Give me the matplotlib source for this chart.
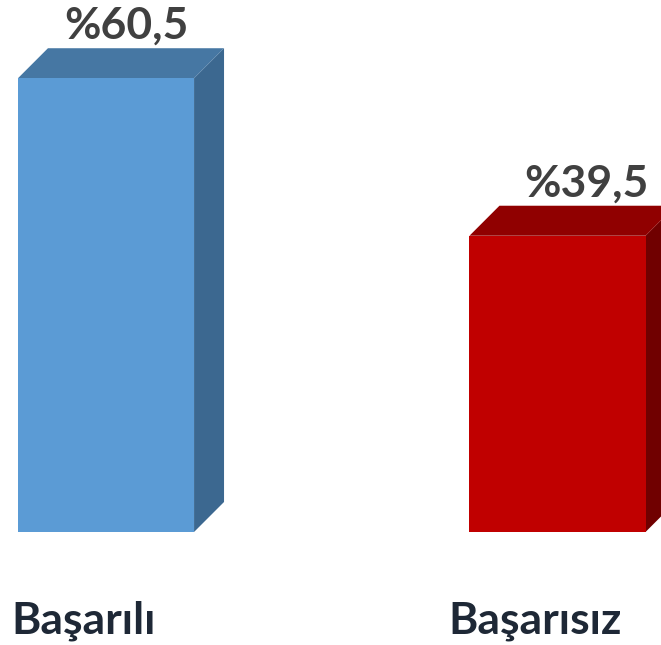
import matplotlib.pyplot as plt
from matplotlib.patches import Polygon

categories = ["Başarılı", "Başarısız"]
values = [60.5, 39.5]
value_labels = ["%60,5", "%39,5"]

front_colors = ["#5B9BD5", "#C00000"]
top_colors = ["#4677A3", "#900000"]
side_colors = ["#3C6890", "#700000"]

fig = plt.figure(figsize=(6.61, 6.45), dpi=100)
ax = fig.add_axes([0, 0, 1, 1])
ax.set_xlim(-0.2348, 1.2292)
ax.set_ylim(-15.07, 70.93)
ax.axis("off")

width = 0.39
dx = 0.0664   # depth offset in x (category units)
dy = 4.0      # depth offset in y (value units)

for i, (v, fc, tc, sc) in enumerate(zip(values, front_colors, top_colors, side_colors)):
    x0, x1 = i - width / 2, i + width / 2
    # side face
    ax.add_patch(Polygon([(x1, 0), (x1 + dx, dy), (x1 + dx, v + dy), (x1, v)],
                         closed=True, facecolor=sc, edgecolor="none"))
    # top face
    ax.add_patch(Polygon([(x0, v), (x0 + dx, v + dy), (x1 + dx, v + dy), (x1, v)],
                         closed=True, facecolor=tc, edgecolor="none"))
    # front face
    ax.bar(i, v, width=width, color=fc, edgecolor="none")

    ax.text(i + 0.045 + 0.02 * i, v + dy + 0.3, value_labels[i],
            ha="center", va="bottom", fontsize=32, fontweight="bold",
            color="#404040", family=["Lato", "DejaVu Sans"])
    ax.text(i - 0.05, -13.5, categories[i], ha="center", va="baseline",
            fontsize=32, fontweight="bold", color="#1E2836",
            family=["Lato", "DejaVu Sans"])

fig.savefig("out.png", dpi=100)
